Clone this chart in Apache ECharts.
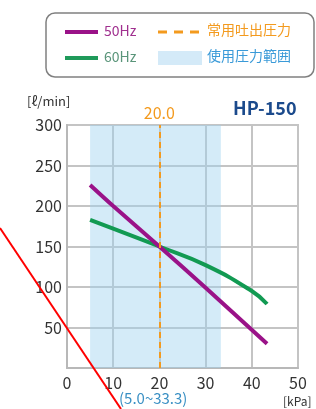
<!DOCTYPE html>
<html>
<head>
<meta charset="utf-8">
<script src="https://cdn.jsdelivr.net/npm/echarts@6/dist/echarts.min.js"></script>
<style>
  html, body { margin: 0; padding: 0; background: #fff; }
  #chart { width: 316px; height: 409px; }
</style>
</head>
<body>
<div id="chart"></div>
<script>
// pressure [kPa] and flow [l/min]
var pressure50 = [5, 10, 20, 30, 43.3];
var flow50 = [226, 200, 150, 99, 30];
var pressure60 = [5, 10, 20, 30, 40, 43.3];
var flow60 = [183, 172, 150, 127, 95, 79];
var ratedPressure = 20;
var rangePressure = [5, 33.3];
var xTicks = [0, 10, 20, 30, 40, 50];
var yTicks = [50, 100, 150, 200, 250, 300];

var font = '"Noto Sans CJK JP", "Noto Sans", sans-serif';
var purple = '#9a1288';
var green = '#129a52';
var orange = '#f39a1e';
var blue = '#3a9ad8';

function pairs(xs, ys) {
  return xs.map(function (x, i) { return [x, ys[i]]; });
}

var chart = echarts.init(document.getElementById('chart'));

var option = {
  animation: false,
  backgroundColor: '#fff',
  grid: {
    left: 67, right: 18, top: 125, bottom: 41,
    show: true, borderColor: '#c4c4c4', borderWidth: 2
  },
  xAxis: {
    type: 'value', min: 0, max: 50, interval: 10,
    axisLine: { show: true, lineStyle: { color: '#b8b8b8', width: 2 } },
    axisTick: { show: false },
    splitLine: { lineStyle: { color: '#c4c4c4', width: 2 } },
    axisLabel: {
      color: '#333', fontSize: 16, fontFamily: font, margin: 7,
      formatter: function (v) { return xTicks.indexOf(v) >= 0 ? String(v) : ''; }
    }
  },
  yAxis: {
    type: 'value', min: 0, max: 300, interval: 50,
    axisLine: { show: true, lineStyle: { color: '#b8b8b8', width: 2 } },
    axisTick: { show: false },
    splitLine: { lineStyle: { color: '#c4c4c4', width: 2 } },
    axisLabel: {
      color: '#333', fontSize: 16, fontFamily: font, margin: 5,
      formatter: function (v) { return yTicks.indexOf(v) >= 0 ? String(v) : ''; }
    }
  },
  series: [
    {
      name: '使用圧力範囲',
      type: 'line',
      data: [],
      z: 1,
      markArea: {
        silent: true,
        itemStyle: { color: 'rgba(160,210,240,0.45)' },
        data: [[{ xAxis: rangePressure[0] }, { xAxis: rangePressure[1] }]]
      }
    },
    {
      name: '60Hz',
      type: 'line',
      data: pairs(pressure60, flow60),
      showSymbol: false,
      smooth: 0.5,
      lineStyle: { color: green, width: 4 },
      z: 3
    },
    {
      name: '50Hz',
      type: 'line',
      data: pairs(pressure50, flow50),
      showSymbol: false,
      smooth: 0.3,
      lineStyle: { color: purple, width: 4 },
      z: 4,
      markLine: {
        silent: true,
        symbol: 'none',
        lineStyle: { color: orange, type: [6, 4], width: 2 },
        label: {
          position: 'end', distance: 4, color: orange, fontSize: 16, fontFamily: font,
          formatter: function () { return ratedPressure.toFixed(1); }
        },
        data: [{ xAxis: ratedPressure }]
      }
    }
  ],
  graphic: [
    // legend box
    { type: 'rect', shape: { x: 46, y: 13, width: 268, height: 64, r: 9 },
      style: { fill: '#fff', stroke: '#808080', lineWidth: 1.5 } },
    { type: 'line', shape: { x1: 65, y1: 32, x2: 98, y2: 32 },
      style: { stroke: purple, lineWidth: 4 } },
    { type: 'text', left: 104, top: 24,
      style: { text: '50Hz', fill: '#a0308f', font: '14px ' + font } },
    { type: 'line', shape: { x1: 65, y1: 58, x2: 98, y2: 58 },
      style: { stroke: '#1f9a5a', lineWidth: 4 } },
    { type: 'text', left: 104, top: 50,
      style: { text: '60Hz', fill: '#5a957a', font: '14px ' + font } },
    { type: 'line', shape: { x1: 158, y1: 32, x2: 201, y2: 32 },
      style: { stroke: orange, lineWidth: 3, lineDash: [9, 7] } },
    { type: 'text', left: 207, top: 23,
      style: { text: '常用吐出圧力', fill: orange, font: '14px ' + font } },
    { type: 'rect', shape: { x: 158, y: 51, width: 44, height: 14 },
      style: { fill: '#d4eaf8' } },
    { type: 'text', left: 207, top: 49,
      style: { text: '使用圧力範囲', fill: blue, font: '14px ' + font } },
    // axis units and titles
    { type: 'text', left: 27, top: 95,
      style: { text: '[ℓ/min]', fill: '#333', font: '13px ' + font } },
    { type: 'text', left: 233, top: 99,
      style: { text: 'HP-150', fill: '#1b4a8c', font: 'bold 18px ' + font } },
    { type: 'text', left: 283, top: 395,
      style: { text: '[kPa]', fill: '#333', font: '12px ' + font } },
    { type: 'text', left: 119, top: 391,
      style: { text: '(5.0~33.3)', fill: '#3a90c4', font: '15px ' + font } },
    // red stroke over the picture
    { type: 'line', z: 100, shape: { x1: 0, y1: 228, x2: 121, y2: 409 },
      style: { stroke: '#ff0000', lineWidth: 2 } }
  ]
};

chart.setOption(option);
</script>
</body>
</html>
